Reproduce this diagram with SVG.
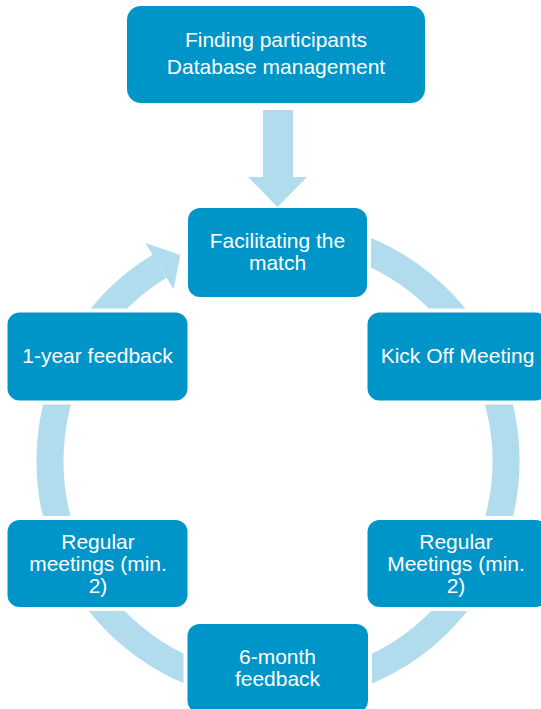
<svg xmlns="http://www.w3.org/2000/svg" width="541" height="709" viewBox="0 0 541 709">
  <style>
    .box { fill: #0095C8; stroke: #FFFFFF; stroke-width: 8; paint-order: stroke; }
    .lbl { fill: #FFFFFF; font-family: "Liberation Sans", Arial, sans-serif; font-size: 21px; text-anchor: middle; }
    .flow { fill: #B0DCEE; }
    .ring { fill: none; stroke: #B0DCEE; stroke-width: 27; }
  </style>

  <!-- connectors: the continuous cycle ring with its arrowhead, and the feed-in arrow -->
  <g id="connectors">
    <path class="ring" d="M 238.41 236.46 A 228 228 0 1 1 159.55 266.18"/>
    <polygon class="flow" points="145.5,243.1 180.2,255.0 173.6,289.3"/>
  </g>

  <g id="node-source">
    <rect class="box" x="127" y="6" width="298" height="97" rx="14"/>
    <text class="lbl" x="276" y="47">Finding participants</text>
    <text class="lbl" x="276" y="74">Database management</text>
  </g>

  <g id="node-match">
    <rect class="box" x="188" y="208" width="179" height="89" rx="12"/>
    <text class="lbl" x="277.5" y="248">Facilitating the</text>
    <text class="lbl" x="277.5" y="270">match</text>
  </g>

  <g id="node-kickoff">
    <rect class="box" x="367.5" y="312.5" width="180" height="88" rx="12"/>
    <text class="lbl" x="457.5" y="363">Kick Off Meeting</text>
  </g>

  <g id="node-regular-right">
    <rect class="box" x="367.5" y="520" width="180" height="87" rx="12"/>
    <text class="lbl" x="456" y="549">Regular</text>
    <text class="lbl" x="456" y="571">Meetings (min.</text>
    <text class="lbl" x="456" y="593">2)</text>
  </g>

  <g id="node-sixmonth">
    <rect class="box" x="187.5" y="624" width="180.5" height="89" rx="12"/>
    <text class="lbl" x="277.5" y="664">6-month</text>
    <text class="lbl" x="277.5" y="686">feedback</text>
  </g>

  <g id="node-regular-left">
    <rect class="box" x="7.5" y="520" width="180" height="87" rx="12"/>
    <text class="lbl" x="98" y="549">Regular</text>
    <text class="lbl" x="98" y="571">meetings (min.</text>
    <text class="lbl" x="98" y="593">2)</text>
  </g>

  <g id="node-oneyear">
    <rect class="box" x="7.5" y="312.5" width="180" height="88" rx="12"/>
    <text class="lbl" x="97.5" y="363">1-year feedback</text>
  </g>

  <g id="connector-feed">
    <polygon class="flow" points="263,110 293,110 293,177 307,177 277.5,207 248,177 263,177"/>
  </g>
</svg>
